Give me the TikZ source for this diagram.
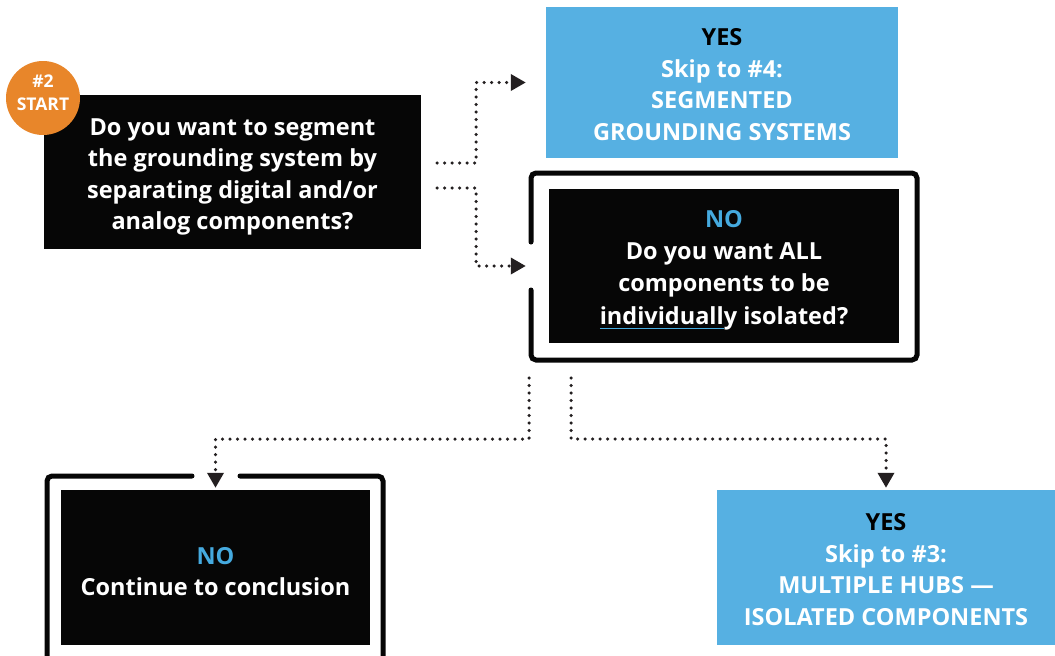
\documentclass[tikz,border=0pt]{standalone}
\usepackage{fontspec}
\setmainfont{Open Sans}
\usetikzlibrary{arrows.meta,calc}
\definecolor{boxblue}{HTML}{56B0E2}
\definecolor{txtblue}{HTML}{45AADF}
\definecolor{startorange}{HTML}{E8862A}
\definecolor{boxblack}{HTML}{060606}
\definecolor{dotgray}{HTML}{231F20}
\newsavebox\ulbox
\newcommand\blueul[1]{\sbox\ulbox{#1}\rlap{\usebox\ulbox}{\color{txtblue}\rule[-5pt]{\wd\ulbox}{1.5pt}}}
\tikzset{
  txt/.style={font=\bfseries\fontsize{23.5}{31.5}\selectfont, align=center, inner sep=0pt},
  wtxt/.style={txt, text=white},
  blackbox/.style={fill=boxblack, inner sep=0pt},
  bluebox/.style={fill=boxblue, inner sep=0pt},
  frameline/.style={draw=boxblack, line width=5pt, rounded corners=5pt, line cap=round},
  dotline/.style={draw=dotgray, line width=3.5pt, dash pattern=on 0pt off 7.5pt, line cap=round,
    -{Triangle[length=15pt,width=16pt]}},
}
\begin{document}
\begin{tikzpicture}[x=1pt,y=-1pt]
\useasboundingbox (0,0) rectangle (1055,656);
% question 1
\node[blackbox, minimum width=377pt, minimum height=154pt,
  label={[wtxt,yshift=-5pt]center:{Do you want to segment\\the grounding system by\\separating digital and/or\\analog components?}}] (q1) at (232.5,172) {};
\node[circle, fill=startorange, minimum size=74pt, inner sep=0pt,
  label={[text=white,font=\bfseries\fontsize{17.5}{23}\selectfont,align=center,yshift=5pt]center:{\#2\\START}}] (start) at (43,98) {};
% yes 1
\node[bluebox, minimum width=352pt, minimum height=151pt,
  label={[wtxt,yshift=-2pt]center:{\textcolor{black}{YES}\\Skip to \#4:\\SEGMENTED\\GROUNDING SYSTEMS}}] (yes1) at (722,82.5) {};
% question 2 (no)
\node[blackbox, minimum width=350pt, minimum height=154pt,
  label={[wtxt,font=\bfseries\fontsize{23.5}{32.3}\selectfont,yshift=-4pt]center:{\textcolor{txtblue}{NO}\\Do you want ALL\\components to be\\\blueul{individuall}y isolated?}}] (q2) at (724,266) {};
\draw[frameline] (531,242) -- (531,173) -- (917,173) -- (917,360) -- (531,360) -- (531,290);
% no 2
\node[blackbox, minimum width=309pt, minimum height=155pt,
  label={[wtxt,yshift=-4pt]center:{\textcolor{txtblue}{NO}\\Continue to conclusion}}] (no2) at (215.5,567.5) {};
\draw[frameline] (192,476) -- (47,476) -- (47,664);
\draw[frameline] (240,476) -- (383,476) -- (383,664);
% yes 2
\node[bluebox, minimum width=338pt, minimum height=155pt,
  label={[wtxt,yshift=-2pt]center:{\textcolor{black}{YES}\\Skip to \#3:\\MULTIPLE HUBS ---\\ISOLATED COMPONENTS}}] (yes2) at (886,567.5) {};
% connectors
\coordinate (s1) at (437,163);
\coordinate (s2) at (437,188);
\coordinate (d1) at (529,378);
\coordinate (d2) at (571,378);
\draw[dotline] (s1) -- ++(39,0) |- ([xshift=-20pt]yes1.west);
\draw[dotline] (s2) -- ++(39,0) |- ([xshift=-23pt]q2.west);
\draw[dotline] (d1) -- ++(0,61) -| ([yshift=2pt]no2.north);
\draw[dotline] (d2) -- ++(0,61) -| ([yshift=2pt]yes2.north);
\end{tikzpicture}
\end{document}
